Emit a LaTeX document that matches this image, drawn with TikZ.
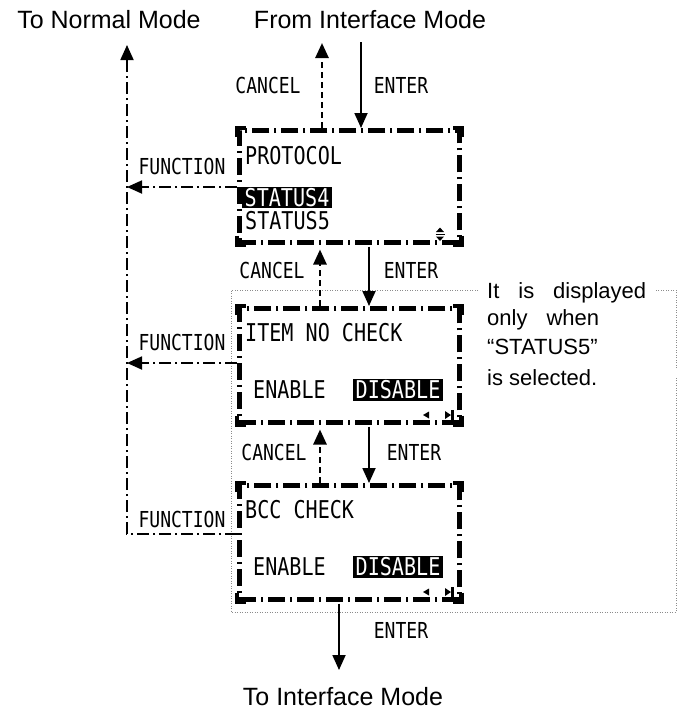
\documentclass[tikz,border=0pt]{standalone}
\usepackage{fontspec}
\setmainfont{Liberation Sans}
\newfontfamily\lcd[FakeStretch=0.82]{DejaVu Sans Mono}
\usetikzlibrary{arrows.meta}
\begin{document}
\begin{tikzpicture}[x=1pt,y=-1pt,
  panel/.style={draw, line width=4.5pt, dash pattern=on 17pt off 5pt on 2pt off 5pt,
    minimum width=220pt, minimum height=112pt, inner sep=0pt, anchor=north west},
  corner/.style={line width=4.5pt},
  bigtxt/.style={font=\fontsize{25}{30}\selectfont, inner sep=0pt},
  lbl/.style={font=\lcd\fontsize{22}{24}\selectfont, inner sep=0pt},
  ptxt/.style={font=\lcd\fontsize{24.5}{28}\selectfont, inner sep=0pt, anchor=west},
  hl/.style={ptxt, fill=black, text=white, inner xsep=2.5pt, inner ysep=1.5pt},
  note/.style={font=\fontsize{22}{26}\selectfont, inner sep=0pt, anchor=base west},
  tipA/.style={-{Triangle[length=15pt,width=13pt]}},
  enter/.style={line width=1.8pt, tipA},
  cancel/.style={line width=2.6pt, dash pattern=on 6pt off 4pt, tipA},
  func/.style={line width=1.8pt, dash pattern=on 12pt off 4pt on 2pt off 4pt},
  dotbox/.style={draw=black!45, line width=1pt, dash pattern=on 1pt off 1.5pt}
]
\useasboundingbox (0,0) rectangle (678,710);

% dotted region
\coordinate (d1) at (478,290);
\coordinate (d2) at (231,290);
\coordinate (d3) at (231,612);
\coordinate (d4) at (676,612);
\coordinate (d5) at (676,377);
\coordinate (d6) at (676,368);
\coordinate (d7) at (676,290);
\coordinate (d8) at (655,290);
\draw[dotbox] (d1) -- (d2) -- (d3) -- (d4) -- (d5);
\draw[dotbox] (d6) -- (d7) -- (d8);

% panels
\node[panel] (proto) at (237,128) {};
\node[panel, minimum height=114pt] (item) at (237,306) {};
\node[panel, minimum height=114pt] (bcc) at (237,483) {};
\foreach \p in {proto,item,bcc}{
  \draw[corner] ([yshift=-9pt]\p.north west) -- (\p.north west) -- ([xshift=9pt]\p.north west);
  \draw[corner] ([yshift=9pt]\p.south west) -- (\p.south west) -- ([xshift=9pt]\p.south west);
  \draw[corner] ([yshift=9pt]\p.south east) -- (\p.south east) -- ([xshift=-9pt]\p.south east);
  \draw[corner] ([yshift=-9pt]\p.north east) -- (\p.north east) -- ([xshift=-9pt]\p.north east);
}

% panel texts
\node[ptxt] (tproto) at (245,156) {PROTOCOL};
\node[hl] (ts4) at (242,197.5) {STATUS4};
\node[ptxt] (ts5) at (245,221) {STATUS5};
\node[ptxt] (titem) at (245,333) {ITEM NO CHECK};
\node[ptxt] (ten1) at (253,390) {ENABLE};
\node[hl] (tdis1) at (353,390) {DISABLE};
\node[ptxt] (tbcc) at (245,510) {BCC CHECK};
\node[ptxt] (ten2) at (253,567) {ENABLE};
\node[hl] (tdis2) at (353,567) {DISABLE};

% small icons
\fill (436,232) -- (444,232) -- (440,227.5) -- cycle;
\draw[line width=1pt] (435.5,234.5) -- (444.5,234.5);
\fill (436,236.5) -- (444,236.5) -- (440,241) -- cycle;
\foreach \yy in {415,592}{
  \fill (423,\yy) -- (429,\yy-3.5) -- (429,\yy+3.5) -- cycle;
  \fill (445,\yy-4) -- (451,\yy) -- (445,\yy+4) -- cycle;
  \fill (451,\yy-5) rectangle (454,\yy+5);
}

% top texts
\node[bigtxt] (tonormal) at (109,20) {To Normal Mode};
\node[bigtxt] (fromif) at (370,20) {From Interface Mode};
\node[bigtxt] (toif) at (343,697) {To Interface Mode};

% connectors top
\coordinate (entertop) at (361,42);
\coordinate (canceltop) at (322,43);
\draw[enter] (entertop) -- (entertop |- proto.north);
\draw[cancel] (canceltop |- proto.north) -- (canceltop);
\node[lbl] (lc0) at (268,85) {CANCEL};
\node[lbl] (le0) at (401,85) {ENTER};

% proto -> item
\coordinate (e1) at (369,0);
\coordinate (c1) at (320,0);
\draw[enter] ([yshift=-2pt]e1 |- proto.south) -- (e1 |- item.north);
\draw[cancel, shorten >=5pt] (c1 |- item.north) -- (c1 |- proto.south);
\node[lbl] (lc1) at (272,270) {CANCEL};
\node[lbl] (le1) at (411,270) {ENTER};

% item -> bcc
\draw[enter] ([yshift=-2pt]e1 |- item.south) -- (e1 |- bcc.north);
\draw[cancel, shorten >=5pt] (c1 |- bcc.north) -- (c1 |- item.south);
\node[lbl] (lc2) at (274,452) {CANCEL};
\node[lbl] (le2) at (414,452) {ENTER};

% bcc -> out
\coordinate (eout) at (339,670);
\draw[enter] ([yshift=-2pt]eout |- bcc.south) -- (eout);
\node[lbl] (le3) at (401,630) {ENTER};

% function lines
\coordinate (vtop) at (127,45);
\coordinate (f1) at (237,187);
\coordinate (f2) at (237,363);
\coordinate (f3) at (237,534);
\draw[func, tipA] (f3) -- (f3 -| vtop) -- (vtop);
\draw[func, tipA] (f1) -- (f1 -| vtop);
\draw[func, tipA] (f2) -- (f2 -| vtop);
\node[lbl] (lf1) at (182,166) {FUNCTION};
\node[lbl] (lf2) at (182,342) {FUNCTION};
\node[lbl] (lf3) at (182,519) {FUNCTION};

% note
\node[note] (n1) at (487,298) {\makebox[159pt][s]{It is displayed}};
\node[note] (n2) at (487,325) {\makebox[112pt][s]{only when}};
\node[note] (n3) at (487,354) {“STATUS5”};
\node[note] (n4) at (487,385) {is selected.};
\end{tikzpicture}
\end{document}
